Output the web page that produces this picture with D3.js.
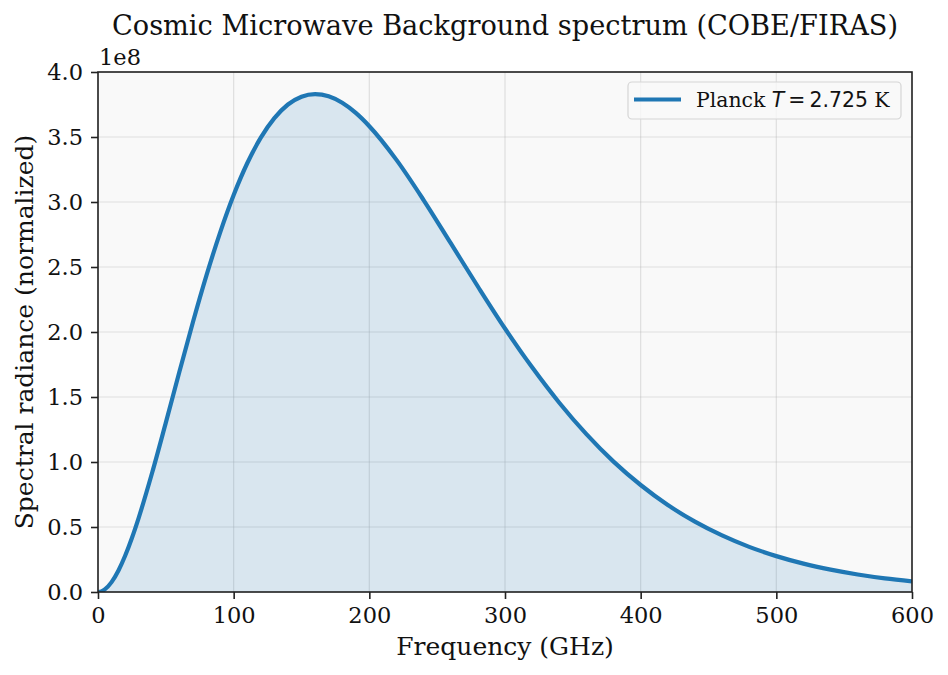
<!DOCTYPE html>
<html>
<head>
<meta charset="utf-8">
<script src="https://cdn.jsdelivr.net/npm/d3@7"></script>
<style>
  html, body { margin: 0; padding: 0; background: #ffffff; }
  svg { display: block; }
  text { font-family: "DejaVu Serif", serif; fill: #111; }
</style>
</head>
<body>
<svg id="chart" width="948" height="675"></svg>
<script>
// Frequency samples (GHz)
const freqGHz = [0, 2.5, 5, 10, 15, 20, 25, 30, 40, 50, 60, 70, 80, 90, 100, 110, 120, 130, 140, 150, 160, 170, 180, 190, 200,
  220, 240, 260, 280, 300, 320, 340, 360, 380, 400, 420, 440, 460, 480, 500, 520, 540, 560, 580, 600];
// Spectral radiance (units of 1e8)
const radiance = [0, 0.005, 0.020, 0.076, 0.164, 0.279, 0.416, 0.571, 0.921, 1.303, 1.694, 2.077, 2.437, 2.765, 3.054, 3.298, 3.495, 3.645, 3.750, 3.810, 3.830, 3.813, 3.763, 3.685, 3.583,
  3.324, 3.015, 2.683, 2.350, 2.027, 1.728, 1.456, 1.214, 1.003, 0.823, 0.669, 0.541, 0.435, 0.347, 0.276, 0.218, 0.172, 0.135, 0.105, 0.082];
const xTicks = [0, 100, 200, 300, 400, 500, 600];
const yTicks = [0.0, 0.5, 1.0, 1.5, 2.0, 2.5, 3.0, 3.5, 4.0];
const titleText = "Cosmic Microwave Background spectrum (COBE/FIRAS)";
const xLabel = "Frequency (GHz)";
const yLabel = "Spectral radiance (normalized)";
const offsetText = "1e8";

const data = freqGHz.map((f, i) => ({ f, v: radiance[i] * 1e8 }));

const svg = d3.select("#chart");
const L = 98, R = 912, T = 72, B = 592;
const x = d3.scaleLinear().domain([0, 600]).range([L, R]);
const y = d3.scaleLinear().domain([0, 4e8]).range([B, T]);
const blue = "#1f77b4";
const tickFont = 22.5;

// axes background
svg.append("rect").attr("x", L).attr("y", T).attr("width", R - L).attr("height", B - T).attr("fill", "#f9f9f9");

// grid
const grid = svg.append("g").attr("stroke", "#b0b0b0").attr("stroke-opacity", 0.35).attr("stroke-width", 1.2);
grid.selectAll(".gx").data(xTicks).join("line")
  .attr("x1", d => x(d)).attr("x2", d => x(d)).attr("y1", T).attr("y2", B);
grid.selectAll(".gy").data(yTicks).join("line")
  .attr("y1", d => y(d * 1e8)).attr("y2", d => y(d * 1e8)).attr("x1", L).attr("x2", R);

// fill
const area = d3.area().x(d => x(d.f)).y0(y(0)).y1(d => y(d.v)).curve(d3.curveMonotoneX);
svg.append("path").datum(data).attr("d", area).attr("fill", blue).attr("fill-opacity", 0.15);

// line
const line = d3.line().x(d => x(d.f)).y(d => y(d.v)).curve(d3.curveMonotoneX);
svg.append("defs").append("clipPath").attr("id", "clip")
  .append("rect").attr("x", L).attr("y", T).attr("width", R - L).attr("height", B - T);
svg.append("path").datum(data).attr("d", line).attr("fill", "none")
  .attr("stroke", blue).attr("stroke-width", 4.2).attr("stroke-linejoin", "round")
  .attr("clip-path", "url(#clip)");

// axes
const xAxis = d3.axisBottom(x).tickValues(xTicks).tickFormat(d3.format("d")).tickSizeOuter(0).tickSize(7).tickPadding(8);
const yAxis = d3.axisLeft(y).tickValues(yTicks.map(d => d * 1e8)).tickFormat(d => (d / 1e8).toFixed(1)).tickSizeOuter(0).tickSize(7).tickPadding(8);
const gx = svg.append("g").attr("transform", `translate(0,${B})`).call(xAxis);
const gy = svg.append("g").attr("transform", `translate(${L},0)`).call(yAxis);
[gx, gy].forEach(g => {
  g.select(".domain").remove();
  g.selectAll(".tick line").attr("stroke", "#222").attr("stroke-width", 1.6);
  g.selectAll(".tick text").attr("font-family", "DejaVu Serif").attr("font-size", tickFont).attr("fill", "#111");
});

// spines
svg.append("rect").attr("x", L).attr("y", T).attr("width", R - L).attr("height", B - T)
  .attr("fill", "none").attr("stroke", "#222").attr("stroke-width", 1.6);

// offset text
svg.append("text").attr("x", L + 1).attr("y", 65).attr("font-size", tickFont).text(offsetText);

// title
svg.append("text").attr("x", (L + R) / 2).attr("y", 35).attr("text-anchor", "middle").attr("font-size", 27.2).text(titleText);
// labels
svg.append("text").attr("x", (L + R) / 2).attr("y", 655).attr("text-anchor", "middle").attr("font-size", 25).text(xLabel);
svg.append("text").attr("transform", `translate(33,${(T + B) / 2}) rotate(-90)`).attr("text-anchor", "middle").attr("font-size", 25).text(yLabel);

// legend
const lg = svg.append("g");
lg.append("rect").attr("x", 628).attr("y", 82).attr("width", 273).attr("height", 37).attr("rx", 4)
  .attr("fill", "#f9f9f9").attr("fill-opacity", 0.8).attr("stroke", "#d5d5d5").attr("stroke-width", 1.2);
lg.append("line").attr("x1", 634).attr("x2", 681).attr("y1", 99.5).attr("y2", 99.5).attr("stroke", blue).attr("stroke-width", 4.2);
const lt = lg.append("text").attr("x", 696).attr("y", 106.5).attr("font-size", 20.4);
lt.append("tspan").text("Planck ");
lt.append("tspan").attr("font-family", "DejaVu Sans").attr("font-style", "italic").text("T");
lt.append("tspan").attr("font-family", "DejaVu Sans").text("\u2009=\u20092.725");
lt.append("tspan").text(" K");
</script>
</body>
</html>
